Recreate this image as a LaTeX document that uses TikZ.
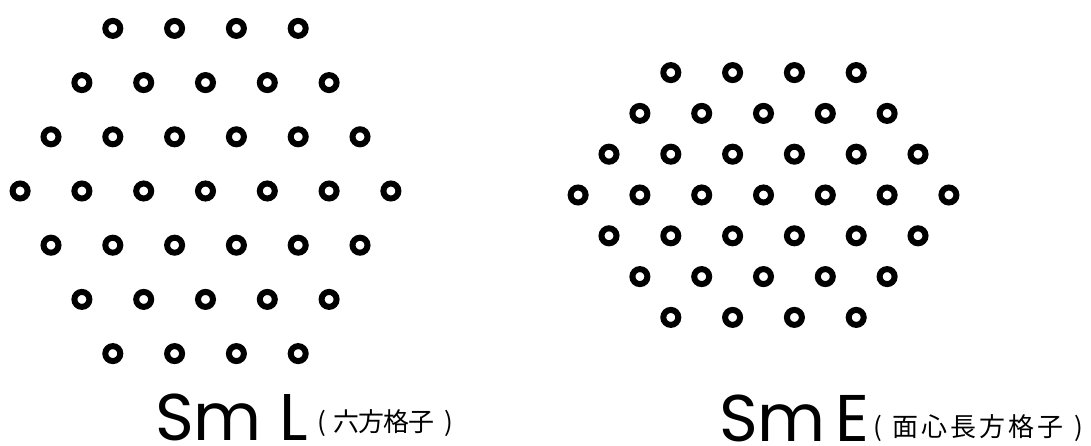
\documentclass[tikz,border=0pt]{standalone}
\usepackage{fontspec}
\setsansfont{Poppins}
\newfontfamily\cjk{Noto Sans CJK JP}
\newcommand\jbox[2]{\makebox[#1][c]{#2}}
\begin{document}
\begin{tikzpicture}[x=1pt,y=-1pt,
  ring/.style={circle,draw=black,line width=6pt,minimum size=15pt,inner sep=0pt},
  biglabel/.style={anchor=base west,inner sep=0pt,font=\sffamily\fontsize{66}{66}\selectfont},
  jplabel/.style={anchor=base west,inner sep=0pt,font=\cjk\fontsize{26}{26}\selectfont}]
\useasboundingbox (0,0) rectangle (1091,446);
% left: hexagonal lattice
\foreach \r/\k in {1/4,2/5,3/6,4/7,5/6,6/5,7/4} {
  \foreach \c in {1,...,\k} {
    \node[ring] (L-\r-\c) at ({205.5+(\c-(\k+1)/2)*61.8},{191+(\r-4)*54.2}) {};
  }
}
% right: centred rectangular lattice
\foreach \r/\k in {1/4,2/5,3/6,4/7,5/6,6/5,7/4} {
  \foreach \c in {1,...,\k} {
    \node[ring] (E-\r-\c) at ({763.5+(\c-(\k+1)/2)*61.8},{195+(\r-4)*40.8}) {};
  }
}
\node[biglabel] (smL) at (155,440) {Sm L};
\node[jplabel] (jpL) at (310,431) {\jbox{24pt}{(}\jbox{25pt}{六}\jbox{25pt}{方}\jbox{25pt}{格}\jbox{25pt}{子}\hspace{3pt}\jbox{24pt}{)}};
\node[biglabel] (smE) at (719,441) {Sm\hspace{10pt}E};
\node[jplabel] (jpE) at (866,436) {\jbox{24pt}{(}\hspace{1pt}\jbox{29pt}{面}\jbox{29pt}{心}\jbox{29pt}{長}\jbox{29pt}{方}\jbox{29pt}{格}\jbox{29pt}{子}\hspace{2pt}\jbox{24pt}{)}};
\end{tikzpicture}
\end{document}
